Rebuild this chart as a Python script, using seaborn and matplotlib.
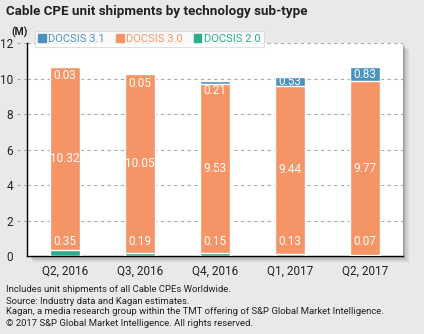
import matplotlib
matplotlib.use("Agg")
import matplotlib.pyplot as plt
from matplotlib.patches import Rectangle
from matplotlib.lines import Line2D
import seaborn as sns
import pandas as pd
import numpy as np

quarters = ["Q2, 2016", "Q3, 2016", "Q4, 2016", "Q1, 2017", "Q2, 2017"]
docsis_20 = [0.35, 0.19, 0.15, 0.13, 0.07]
docsis_30 = [10.32, 10.05, 9.53, 9.44, 9.77]
docsis_31 = [0.03, 0.05, 0.21, 0.53, 0.83]
y_ticks = [0, 2, 4, 6, 8, 10, 12]

C31 = "#4b93bd"
C30 = "#f59466"
C20 = "#2bae8e"
BG = "#e9e9e9"

sns.set_style("white")
plt.rcParams["font.family"] = ["Roboto", "DejaVu Sans"]

df = pd.DataFrame({"quarter": quarters, "d20": docsis_20, "d30": docsis_30, "d31": docsis_31})
df["low"] = df["d20"]
df["mid"] = df["d20"] + df["d30"]
df["top"] = df["mid"] + df["d31"]

fig = plt.figure(figsize=(4.24, 3.34), dpi=100, facecolor=BG)
ax = fig.add_axes([0.064, 0.2335, 0.886, 0.6375])
ax.set_facecolor("white")

# soft drop shadow behind the plotting panel
for i, a in enumerate([0.12, 0.09, 0.07, 0.05, 0.03, 0.02]):
    off = (i + 1) * 1.2
    fig.patches.append(Rectangle((0.064 + off / 424, 0.2335 - off / 334), 0.886, 0.6375,
                                 transform=fig.transFigure, facecolor="black", alpha=a,
                                 edgecolor="none", zorder=-5))

# stacked bars: cumulative totals layered from tallest to shortest
sns.barplot(data=df, x="quarter", y="top", color=C31, width=0.4, ax=ax, saturation=1, zorder=3)
sns.barplot(data=df, x="quarter", y="mid", color=C30, width=0.4, ax=ax, saturation=1, zorder=3)
sns.barplot(data=df, x="quarter", y="low", color=C20, width=0.4, ax=ax, saturation=1, zorder=3)

ax.set_xlim(-0.5, 4.5)
ax.set_ylim(0, 12)
ax.set_yticks(y_ticks)
ax.set_yticklabels([str(t) for t in y_ticks], fontsize=8.5, color="#222222")
ax.set_xticks(range(len(quarters)))
ax.set_xticklabels(quarters, fontsize=8.5, color="#222222")
ax.tick_params(axis="x", length=0, pad=6)
ax.tick_params(axis="y", length=0, pad=10)
ax.set_xticks([0.5, 1.5, 2.5, 3.5, 4.5], minor=True)
ax.tick_params(axis="x", which="minor", length=3, color="#999999", width=0.8)
ax.set_xlabel("")
ax.set_ylabel("")

for t in y_ticks[1:]:
    ax.axhline(t, color="#aaaaaa", lw=0.8, ls=(0, (3, 3)), zorder=1)
    ax.add_line(Line2D([-0.64, -0.5], [t, t], color="#aaaaaa", lw=0.8, ls=(0, (3, 3)), clip_on=False))

for s in ["top", "right"]:
    ax.spines[s].set_visible(False)
for s in ["left", "bottom"]:
    ax.spines[s].set_color("black")
    ax.spines[s].set_linewidth(1.0)

# value labels
for i in range(len(quarters)):
    ax.text(i, 0.82, f"{docsis_20[i]:.2f}", ha="center", va="center", color="white", fontsize=8.5, zorder=5)
    ax.text(i, docsis_20[i] + docsis_30[i] / 2, f"{docsis_30[i]:.2f}", ha="center", va="center",
            color="white", fontsize=8.5, zorder=5)
    top = df["top"][i]
    if docsis_31[i] > 0.4:
        y = df["mid"][i] + docsis_31[i] / 2
    else:
        y = top - 0.55
    ax.text(i, y, f"{docsis_31[i]:.2f}", ha="center", va="center", color="white", fontsize=8.5, zorder=5)

# legend
handles = [Rectangle((0, 0), 1, 1, color=c) for c in (C31, C30, C20)]
leg = fig.legend(handles, ["DOCSIS 3.1", "DOCSIS 3.0", "DOCSIS 2.0"], loc="upper left",
                 bbox_to_anchor=(0.069, 0.925), ncol=3, frameon=True, fontsize=8,
                 handlelength=0.7, handleheight=0.7, handletextpad=0.2, columnspacing=1.0,
                 borderpad=0.3, fancybox=False, edgecolor="#d8d8d8")
leg.get_frame().set_linewidth(0.8)
for txt, c in zip(leg.get_texts(), (C31, C30, C20)):
    txt.set_color(c)

fig.text(0.014, 0.965, "Cable CPE unit shipments by technology sub-type", fontsize=9.6,
         fontweight="bold", color="#222222", va="center", ha="left")
fig.text(0.028, 0.903, "(M)", fontsize=7.5, fontweight="bold", color="#222222", va="center", ha="left")

notes = ["Includes unit shipments of all Cable CPEs Worldwide.",
         "Source: Industry data and Kagan estimates.",
         "Kagan, a media research group within the TMT offering of S&P Global Market Intelligence.",
         "\u00a9 2017 S&P Global Market Intelligence. All rights reserved."]
for k, line in enumerate(notes):
    fig.text(0.014, 1 - (290 + 11 * k) / 334, line, fontsize=6.8, color="#222222", va="center", ha="left")

fig.savefig("out.png", dpi=100, facecolor=BG)
